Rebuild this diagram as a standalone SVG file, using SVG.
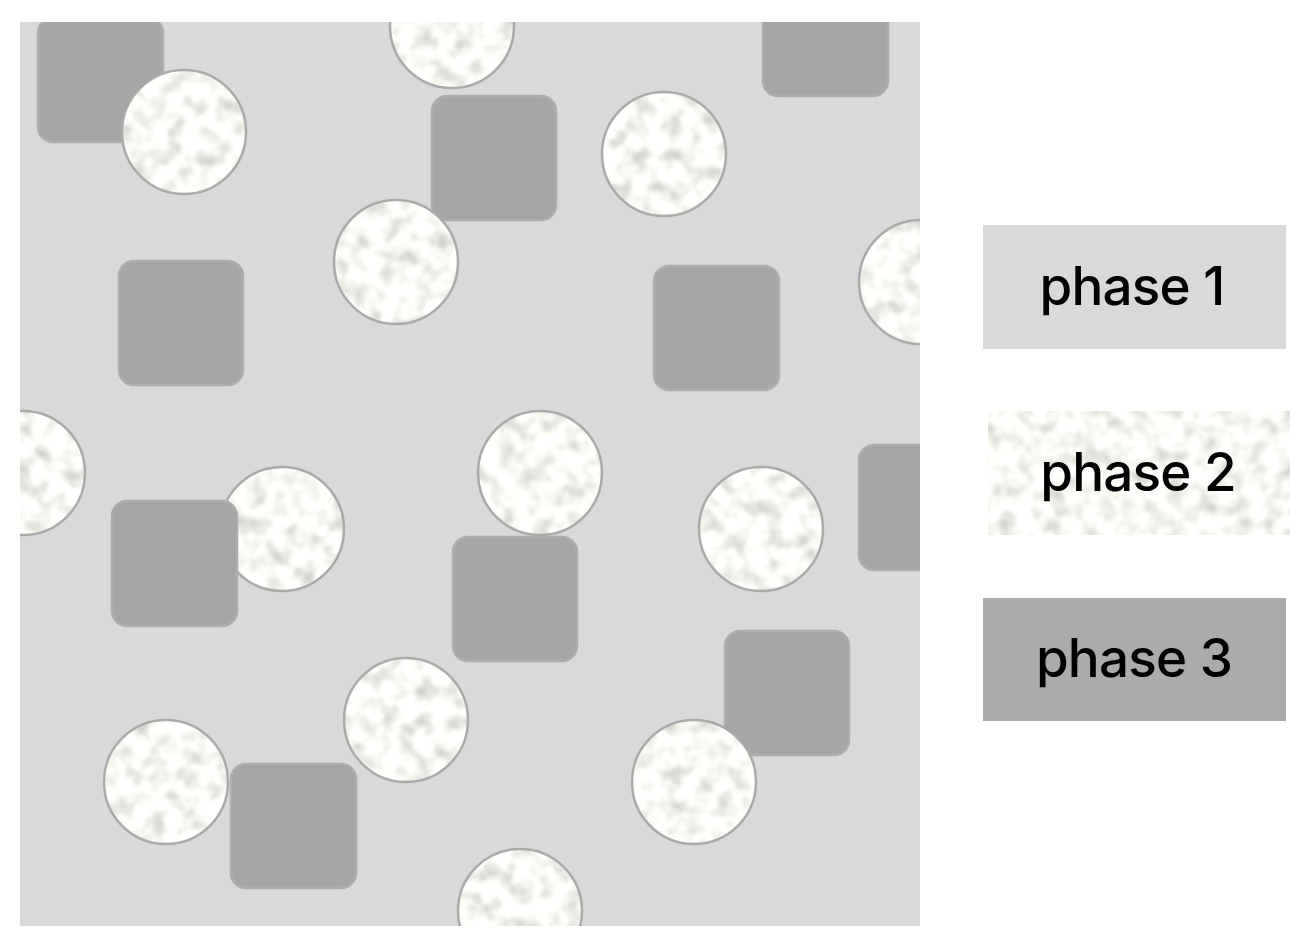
<svg xmlns="http://www.w3.org/2000/svg" width="1308" height="950" viewBox="0 0 1308 950">
<defs>
<filter id="tex" x="-5%" y="-5%" width="110%" height="110%" color-interpolation-filters="sRGB">
<feTurbulence type="fractalNoise" baseFrequency="0.06" numOctaves="2" seed="7" result="n"/>
<feColorMatrix in="n" type="matrix" values="0.42 0 0 0 0.76  0.42 0 0 0 0.77  0.42 0 0 0 0.74  0 0 0 0 1" result="c"/>
<feGaussianBlur in="c" stdDeviation="1.2" result="b"/>
<feComposite in="b" in2="SourceGraphic" operator="in"/>
</filter>
<clipPath id="frame"><rect x="20" y="22" width="900" height="904"/></clipPath>
</defs>
<style>
.bg{fill:#d9d9d9}
.p3{fill:#a6a6a6;stroke:#adadad;stroke-width:2.5}
.p2f{fill:#ffffff;filter:url(#tex)}
.p2s{fill:none;stroke:#aaaaaa;stroke-width:2.5}
.lab{font-family:Inter,"Liberation Sans",sans-serif;font-size:53px;font-weight:500;letter-spacing:-0.8px;fill:#000;text-anchor:middle}
</style>
<g id="structure" clip-path="url(#frame)">
<rect class="bg" x="20" y="22" width="900" height="904"/>
<g id="phase3-grains">
<rect class="p3" x="38" y="18" width="125" height="124" rx="15"/>
<rect class="p3" x="432" y="96" width="124" height="124" rx="15"/>
<rect class="p3" x="763" y="-29" width="125" height="125" rx="15"/>
<rect class="p3" x="119" y="261" width="124" height="124" rx="15"/>
<rect class="p3" x="654" y="266" width="125" height="124" rx="15"/>
<rect class="p3" x="859" y="445" width="125" height="125" rx="15"/>
<rect class="p3" x="453" y="537" width="124" height="124" rx="15"/>
<rect class="p3" x="725" y="631" width="124" height="124" rx="15"/>
<rect class="p3" x="231" y="764" width="125" height="124" rx="15"/>
</g>
<g id="phase2-grains">
<g id="c1"><circle class="p2f" cx="184" cy="132" r="62"/><circle class="p2s" cx="184" cy="132" r="62"/></g>
<g id="c2"><circle class="p2f" cx="452" cy="26" r="62"/><circle class="p2s" cx="452" cy="26" r="62"/></g>
<g id="c3"><circle class="p2f" cx="664" cy="154" r="62"/><circle class="p2s" cx="664" cy="154" r="62"/></g>
<g id="c4"><circle class="p2f" cx="396" cy="262" r="62"/><circle class="p2s" cx="396" cy="262" r="62"/></g>
<g id="c5"><circle class="p2f" cx="921" cy="282" r="62"/><circle class="p2s" cx="921" cy="282" r="62"/></g>
<g id="c6"><circle class="p2f" cx="23" cy="473" r="62"/><circle class="p2s" cx="23" cy="473" r="62"/></g>
<g id="c7"><circle class="p2f" cx="282" cy="529" r="62"/><circle class="p2s" cx="282" cy="529" r="62"/></g>
<g id="c8"><circle class="p2f" cx="540" cy="473" r="62"/><circle class="p2s" cx="540" cy="473" r="62"/></g>
<g id="c9"><circle class="p2f" cx="761" cy="529" r="62"/><circle class="p2s" cx="761" cy="529" r="62"/></g>
<g id="c10"><circle class="p2f" cx="406" cy="720" r="62"/><circle class="p2s" cx="406" cy="720" r="62"/></g>
<g id="c11"><circle class="p2f" cx="166" cy="782" r="62"/><circle class="p2s" cx="166" cy="782" r="62"/></g>
<g id="c12"><circle class="p2f" cx="694" cy="782" r="62"/><circle class="p2s" cx="694" cy="782" r="62"/></g>
<g id="c13"><circle class="p2f" cx="520" cy="911" r="62"/><circle class="p2s" cx="520" cy="911" r="62"/></g>
</g>
<rect class="p3" x="112" y="501" width="125" height="125" rx="15"/>
</g>
<g id="legend-phase1">
<rect x="983" y="225" width="303" height="124" fill="#d9d9d9"/>
<text class="lab" x="1132" y="305">phase 1</text>
</g>
<g id="legend-phase2">
<rect class="p2f" x="988" y="411" width="302" height="124"/>
<text class="lab" x="1138" y="491">phase 2</text>
</g>
<g id="legend-phase3">
<rect x="983" y="598" width="303" height="123" fill="#ababab"/>
<text class="lab" x="1134" y="677">phase 3</text>
</g>
</svg>
